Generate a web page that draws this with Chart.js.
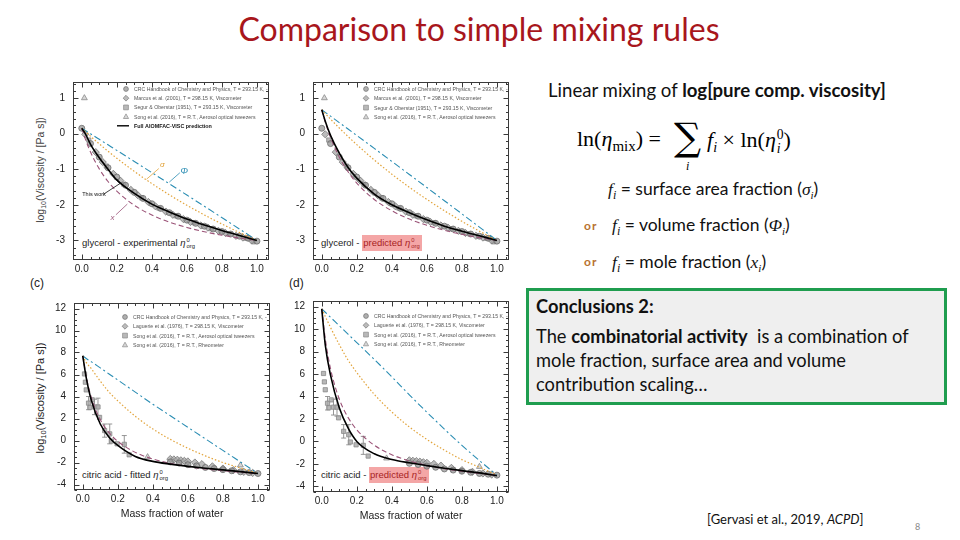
<!DOCTYPE html>
<html>
<head>
<meta charset="utf-8">
<title>Comparison to simple mixing rules</title>
<script src="https://cdn.jsdelivr.net/npm/chart.js@4.4.1/dist/chart.umd.min.js"></script>
<style>
html,body{margin:0;padding:0;background:#fff;}
#stage{position:relative;width:960px;height:540px;overflow:hidden;background:#fff;}
.t{position:absolute;white-space:nowrap;line-height:1;}
.cal{font-family:Lato,'Open Sans',sans-serif;color:#111;}
.ser{font-family:'Liberation Serif','DejaVu Serif',serif;}
.ax{font-family:'Liberation Sans',Arial,sans-serif;color:#222;}
.ss{display:inline-flex;flex-direction:column;vertical-align:middle;font-size:0.62em;line-height:1;margin-left:1px;}
.pk{background:#f4a6a6;color:#a81e1e;padding:2px 2px 3px 1px;}
.or{color:#b87330;font-weight:bold;font-size:12px;letter-spacing:1px;}
canvas{position:absolute;}
</style>
</head>
<body>
<div id="stage">
  <div class="t cal" style="left:0;width:958px;text-align:center;top:13px;font-size:32px;color:#a8161c;">Comparison to simple mixing rules</div>

  <div class="t cal" style="left:548px;top:81px;font-size:18.6px;">Linear mixing of <b>log[pure comp. viscosity]</b></div>

  <div class="t ser" style="left:577px;top:128px;font-size:22px;">ln(<i>η</i><span style="font-size:15px;position:relative;top:5px;">mix</span>) =</div>
  <div class="t" style="left:674px;top:118px;font-size:38px;font-family:'DejaVu Serif',serif;">∑</div>
  <div class="t ser" style="left:686px;top:160px;font-size:12px;"><i>i</i></div>
  <div class="t ser" style="left:707px;top:128px;font-size:22px;"><i>f</i><span style="font-size:14px;position:relative;top:5px;"><i>i</i></span> × ln(<i>η</i><span class="ss"><span>0</span><span><i>i</i></span></span>)</div>

  <div class="t cal" style="left:608px;top:180px;font-size:17.5px;"><span class="ser"><i>f</i><span style="font-size:12px;position:relative;top:4px;"><i>i</i></span></span> = surface area fraction (<span class="ser"><i>σ</i><span style="font-size:11px;position:relative;top:4px;"><i>i</i></span></span>)</div>
  <div class="t cal or" style="left:584px;top:220px;">or</div>
  <div class="t cal" style="left:612px;top:216px;font-size:17.5px;"><span class="ser"><i>f</i><span style="font-size:12px;position:relative;top:4px;"><i>i</i></span></span> = volume fraction (<span class="ser"><i>Φ</i><span style="font-size:11px;position:relative;top:4px;"><i>i</i></span></span>)</div>
  <div class="t cal or" style="left:584px;top:256px;">or</div>
  <div class="t cal" style="left:612px;top:253px;font-size:17.5px;"><span class="ser"><i>f</i><span style="font-size:12px;position:relative;top:4px;"><i>i</i></span></span> = mole fraction (<span class="ser"><i>x</i><span style="font-size:11px;position:relative;top:4px;"><i>i</i></span></span>)</div>

  <div style="position:absolute;left:526px;top:288px;width:421px;height:117px;box-sizing:border-box;border:3px solid #1f9d4f;background:#efefef;"></div>
  <div class="t cal" style="left:536px;top:297px;font-size:18.3px;font-weight:bold;">Conclusions 2:</div>
  <div class="t cal" style="left:536px;top:327px;font-size:18.3px;">The <b>combinatorial activity</b>&nbsp; is a combination of</div>
  <div class="t cal" style="left:536px;top:351px;font-size:18.3px;">mole fraction, surface area and volume</div>
  <div class="t cal" style="left:536px;top:375px;font-size:18.3px;">contribution scaling…</div>

  <div class="t cal" style="left:707px;top:513px;font-size:13px;">[Gervasi et al., 2019, <i>ACPD</i>]</div>
  <div class="t cal" style="left:915px;top:522px;font-size:9px;color:#888;">8</div>

  <div class="t ax" style="left:30px;top:277px;font-size:12px;">(c)</div>
  <div class="t ax" style="left:289px;top:277px;font-size:12px;">(d)</div>

  <div class="t ax" style="left:40px;top:170px;font-size:10.5px;transform:translate(-50%,-50%) rotate(-90deg);color:#444;">log<span style="font-size:7px;position:relative;top:2px;">10</span>(Viscosity / [Pa s])</div>
  <div class="t ax" style="left:40px;top:398px;font-size:11px;transform:translate(-50%,-50%) rotate(-90deg);">log<span style="font-size:7.5px;position:relative;top:2px;">10</span>(Viscosity / [Pa s])</div>

  <div class="t ax" style="left:82px;top:238px;font-size:9.5px;">glycerol - experimental <i>η</i><span class="ss"><span>0</span><span>org</span></span></div>
  <div class="t ax" style="left:321px;top:238px;font-size:9.5px;">glycerol - <span class="pk">predicted <i>η</i><span class="ss"><span>0</span><span>org</span></span></span></div>
  <div class="t ax" style="left:82px;top:470px;font-size:9.5px;">citric acid - fitted <i>η</i><span class="ss"><span>0</span><span>org</span></span></div>
  <div class="t ax" style="left:321px;top:470px;font-size:9.5px;">citric acid - <span class="pk">predicted <i>η</i><span class="ss"><span>0</span><span>org</span></span></span></div>
</div>

<script>
// ---------------- DATA ----------------
// mass fraction of water grid for the model / mixing-rule curves
const massFrac = [0, 0.02, 0.05, 0.1, 0.15, 0.2, 0.3, 0.4, 0.5, 0.6, 0.7, 0.8, 0.9, 1.0];

// axis ticks
const xTickValues = [0, 0.2, 0.4, 0.6, 0.8, 1.0];
const xTickLabels = ['0.0', '0.2', '0.4', '0.6', '0.8', '1.0'];
const glyYTicks = [-3, -2, -1, 0, 1];
const citYTicks = [-4, -2, 0, 2, 4, 6, 8, 10, 12];

// (a) glycerol, experimental pure-component viscosity
const glyVolumeA  = [0.15, 0.088, -0.005, -0.16, -0.315, -0.47, -0.782, -1.095, -1.41, -1.725, -2.042, -2.36, -2.679, -3.0];
const glySurfaceA = [0.15, 0.059, -0.075, -0.289, -0.495, -0.691, -1.061, -1.403, -1.719, -2.012, -2.284, -2.539, -2.777, -3.0];
const glyMoleA    = [0.15, -0.148, -0.518, -0.991, -1.344, -1.617, -2.013, -2.285, -2.485, -2.636, -2.756, -2.853, -2.933, -3.0];
const glyModelA   = [0.15, 0.0, -0.3, -0.68, -1.0, -1.3, -1.68, -1.98, -2.2, -2.4, -2.57, -2.72, -2.86, -3.0];

// (b) glycerol, predicted pure-component viscosity
const glyVolumeB  = [0.67, 0.598, 0.49, 0.309, 0.129, -0.053, -0.416, -0.781, -1.147, -1.515, -1.884, -2.254, -2.626, -3.0];
const glySurfaceB = [0.67, 0.564, 0.408, 0.158, -0.081, -0.31, -0.741, -1.139, -1.507, -1.848, -2.166, -2.463, -2.74, -3.0];
const glyMoleB    = [0.67, 0.323, -0.108, -0.659, -1.071, -1.389, -1.85, -2.167, -2.4, -2.576, -2.716, -2.829, -2.922, -3.0];
const glyModelB   = [0.67, 0.35, -0.05, -0.55, -0.95, -1.25, -1.7, -2.0, -2.22, -2.42, -2.6, -2.74, -2.87, -3.0];

// (c) citric acid, fitted pure-component viscosity
const citVolumeC  = [7.7, 7.45, 7.15, 6.6, 6.05, 5.5, 4.4, 3.3, 2.25, 1.2, 0.15, -0.9, -1.95, -3.0];
const citSurfaceC = [7.7, 7.1, 6.5, 5.4, 4.4, 3.6, 2.2, 1.05, 0.1, -0.7, -1.4, -2.0, -2.5, -3.0];
const citMoleC    = [7.7, 5.79, 3.85, 1.9, 0.71, -0.08, -1.08, -1.68, -2.08, -2.37, -2.59, -2.75, -2.89, -3.0];
const citModelC   = [7.7, 5.7, 3.6, 1.5, 0.3, -0.45, -1.45, -1.9, -2.15, -2.35, -2.52, -2.67, -2.83, -3.0];

// (d) citric acid, predicted pure-component viscosity
const citVolumeD  = [11.8, 11.5, 11.05, 10.3, 9.55, 8.8, 7.3, 5.75, 4.15, 2.6, 1.1, -0.35, -1.7, -3.0];
const citSurfaceD = [11.8, 11.13, 10.14, 8.62, 7.24, 6.13, 4.19, 2.62, 1.29, 0.18, -0.78, -1.62, -2.3, -3.0];
const citMoleD    = [11.8, 9.16, 6.48, 3.77, 2.14, 1.04, -0.34, -1.18, -1.73, -2.13, -2.43, -2.66, -2.85, -3.0];
const citModelD   = [11.8, 8.6, 5.9, 3.0, 1.2, 0.0, -1.1, -1.6, -1.9, -2.15, -2.38, -2.6, -2.8, -3.05];

// glycerol measurements
const glyCrcW = [0, 0.05, 0.1, 0.15, 0.2, 0.25, 0.3, 0.35, 0.4, 0.45, 0.5, 0.55, 0.6, 0.65, 0.7, 0.75, 0.8, 0.85, 0.9, 0.95, 1.0];
const glyCrcV = [0.15, -0.28, -0.66, -0.96, -1.22, -1.45, -1.65, -1.82, -1.97, -2.1, -2.22, -2.32, -2.43, -2.52, -2.6, -2.68, -2.75, -2.82, -2.88, -2.94, -3.02];
const glyViscW = [0.02, 0.08, 0.12, 0.18, 0.22, 0.28, 0.32, 0.38, 0.42, 0.48, 0.52, 0.58, 0.62, 0.68, 0.72, 0.78, 0.82, 0.88, 0.92, 0.97];
const glyViscV = [-0.02, -0.52, -0.8, -1.13, -1.32, -1.58, -1.73, -1.92, -2.04, -2.19, -2.28, -2.4, -2.48, -2.58, -2.64, -2.73, -2.79, -2.87, -2.92, -3.0];
const glySegurW = [0.04, 0.14, 0.24, 0.34, 0.44, 0.54, 0.64, 0.74, 0.84, 0.94, 0.98];
const glySegurV = [-0.18, -0.91, -1.42, -1.8, -2.09, -2.31, -2.5, -2.67, -2.81, -2.94, -3.04];
const glySongW = [0.015];
const glySongV = [1.0];

// citric acid measurements
const citCrcW = [0.5, 0.55, 0.6, 0.65, 0.7, 0.75, 0.8, 0.85, 0.9, 0.95, 1.0];
const citCrcV = [-1.95, -2.05, -2.2, -2.3, -2.45, -2.55, -2.65, -2.75, -2.85, -2.92, -3.0];
const citLagW = [0.5, 0.52, 0.54, 0.56, 0.58, 0.6, 0.64, 0.68, 0.74, 0.8, 0.86, 0.92, 0.97];
const citLagV = [-1.68, -1.72, -1.75, -1.8, -1.85, -1.9, -2.0, -2.15, -2.35, -2.55, -2.7, -2.85, -2.95];
const citAotW = [0.01, 0.015, 0.02, 0.033, 0.04, 0.054, 0.067, 0.087, 0.096, 0.125, 0.154, 0.163, 0.196, 0.237, 0.265];
const citAotV = [6.05, 5.3, 4.6, 3.4, 3.0, 3.7, 3.05, 3.05, 2.1, 0.9, 0.6, -0.05, -0.3, -0.35, -1.3];
const citAotErr = [0, 0, 0, 0.6, 0, 0, 0.7, 0.8, 0, 0.6, 0.9, 0, 0, 0.8, 0];
const citRheoW = [0.37, 0.9];
const citRheoV = [-1.5, -2.25];

// legend texts
const glyLegendLabels = [
  'CRC Handbook of Chemistry and Physics, T = 293.15 K, -',
  'Marcus et al. (2001), T = 298.15 K, Viscometer',
  'Segur & Oberstar (1951), T = 293.15 K, Viscometer',
  'Song et al. (2016), T = R.T., Aerosol optical tweezers'
];
const citLegendLabels = [
  'CRC Handbook of Chemistry and Physics, T = 293.15 K, -',
  'Laguerie et al. (1976), T = 298.15 K, Viscometer',
  'Song et al. (2016), T = R.T., Aerosol optical tweezers',
  'Song et al. (2016), T = R.T., Rheometer'
];
const modelLabel = 'Full AIOMFAC-VISC prediction';

// ---------------- STYLE HELPERS ----------------
const SANS = '"Liberation Sans", Arial, sans-serif';
const C_VOL = '#2a8db3', C_SURF = '#e2a43c', C_MOLE = '#9b5478', C_MODEL = '#000';
const MK = {
  circle:   {bg: 'rgba(150,150,150,0.75)', bd: '#6e6e6e', r: 3},
  rectRot:  {bg: 'rgba(170,170,170,0.8)',  bd: '#777',    r: 3.6},
  rect:     {bg: 'rgba(172,172,172,0.85)', bd: '#8a8a8a', r: 3},
  triangle: {bg: 'rgba(205,205,205,0.8)',  bd: '#8a8a8a', r: 3.4}
};

function pts(xs, ys) { return xs.map((x, i) => ({x: x, y: ys[i]})); }
function lineDs(label, ys, color, dash, width) {
  return {label, data: pts(massFrac, ys), borderColor: color, borderDash: dash, borderWidth: width,
          pointRadius: 0, fill: false, cubicInterpolationMode: 'monotone', showLine: true};
}
function markDs(label, xs, ys, shape, extra) {
  const m = MK[shape];
  return Object.assign({label, data: pts(xs, ys), showLine: false, pointStyle: shape, pointRadius: m.r,
          pointBackgroundColor: m.bg, pointBorderColor: m.bd, pointBorderWidth: 0.8,
          borderColor: m.bd, backgroundColor: m.bg}, extra || {});
}

// ---------------- PLUGINS ----------------
const boxTicks = {
  id: 'boxTicks',
  afterDatasetsDraw(chart, args, o) {
    const {ctx, chartArea: a, scales} = chart;
    const sx = scales.x, sy = scales.y;
    ctx.save();
    ctx.strokeStyle = '#3a3a3a';
    ctx.lineWidth = 1;
    const L = Math.round(a.left) + 0.5, R = Math.round(a.right) - 0.5;
    const T = Math.round(a.top) + 0.5, B = Math.round(a.bottom) - 0.5;
    ctx.strokeRect(L, T, R - L, B - T);
    ctx.beginPath();
    const isMajor = (v, step) => Math.abs(v / step - Math.round(v / step)) < 1e-6;
    for (let k = Math.ceil(sx.min / o.xMinor - 1e-9); k * o.xMinor <= sx.max + 1e-9; k++) {
      const v = k * o.xMinor, len = isMajor(v, o.xMajor) ? 5 : 2.5;
      const p = Math.round(sx.getPixelForValue(v)) + 0.5;
      ctx.moveTo(p, B); ctx.lineTo(p, B - len);
      ctx.moveTo(p, T); ctx.lineTo(p, T + len);
    }
    for (let k = Math.ceil(sy.min / o.yMinor - 1e-9); k * o.yMinor <= sy.max + 1e-9; k++) {
      const v = k * o.yMinor, len = isMajor(v, o.yMajor) ? 5 : 2.5;
      const p = Math.round(sy.getPixelForValue(v)) + 0.5;
      ctx.moveTo(L, p); ctx.lineTo(L + len, p);
      ctx.moveTo(R, p); ctx.lineTo(R - len, p);
    }
    ctx.stroke();
    ctx.restore();
  }
};

function drawMarker(ctx, shape, x, y, r, fill, stroke) {
  ctx.beginPath();
  if (shape === 'circle') ctx.arc(x, y, r, 0, Math.PI * 2);
  else if (shape === 'rect') ctx.rect(x - r, y - r, 2 * r, 2 * r);
  else if (shape === 'rectRot') { ctx.moveTo(x, y - r); ctx.lineTo(x + r, y); ctx.lineTo(x, y + r); ctx.lineTo(x - r, y); ctx.closePath(); }
  else if (shape === 'triangle') { ctx.moveTo(x, y - r); ctx.lineTo(x + r * 0.95, y + r * 0.7); ctx.lineTo(x - r * 0.95, y + r * 0.7); ctx.closePath(); }
  ctx.fillStyle = fill; ctx.fill();
  ctx.strokeStyle = stroke; ctx.lineWidth = 0.7; ctx.stroke();
}

const miniLegend = {
  id: 'miniLegend',
  afterDraw(chart, args, o) {
    if (!o || !o.items) return;
    const {ctx, chartArea: a} = chart;
    ctx.save();
    ctx.textBaseline = 'middle';
    o.items.forEach((it, i) => {
      const x = a.left + o.dx, y = a.top + o.dy + i * o.row;
      if (it.shape === 'line') {
        ctx.strokeStyle = '#000'; ctx.lineWidth = 1.4;
        ctx.beginPath(); ctx.moveTo(x - 9, y); ctx.lineTo(x + 3, y); ctx.stroke();
        ctx.font = 'bold 5.4px ' + SANS; ctx.fillStyle = '#111';
      } else {
        const m = MK[it.shape];
        drawMarker(ctx, it.shape, x, y, m.r * 0.8, m.bg, m.bd);
        ctx.font = '5.2px ' + SANS; ctx.fillStyle = '#555';
      }
      ctx.fillText(it.text, x + 8, y + 0.5);
    });
    ctx.restore();
  }
};

const annots = {
  id: 'annots',
  afterDatasetsDraw(chart, args, o) {
    if (!o || !o.items) return;
    const {ctx, scales: {x: sx, y: sy}} = chart;
    ctx.save();
    o.items.forEach(it => {
      ctx.strokeStyle = it.color; ctx.lineWidth = 0.8;
      ctx.beginPath();
      ctx.moveTo(sx.getPixelForValue(it.line[0]), sy.getPixelForValue(it.line[1]));
      ctx.lineTo(sx.getPixelForValue(it.line[2]), sy.getPixelForValue(it.line[3]));
      ctx.stroke();
      ctx.fillStyle = it.color;
      ctx.font = (it.italic ? 'italic ' : '') + it.size + 'px ' + SANS;
      ctx.textAlign = 'center'; ctx.textBaseline = 'middle';
      ctx.fillText(it.text, sx.getPixelForValue(it.x), sy.getPixelForValue(it.y));
    });
    ctx.restore();
  }
};

const errBars = {
  id: 'errBars',
  beforeDatasetsDraw(chart) {
    const {ctx, scales: {y: sy}} = chart;
    ctx.save();
    ctx.strokeStyle = '#8a8a8a'; ctx.lineWidth = 0.9;
    chart.data.datasets.forEach((ds, di) => {
      if (!ds.errors) return;
      const meta = chart.getDatasetMeta(di);
      meta.data.forEach((el, j) => {
        const e = ds.errors[j];
        if (!e) return;
        const v = ds.data[j].y;
        const y1 = sy.getPixelForValue(v - e), y2 = sy.getPixelForValue(v + e);
        ctx.beginPath();
        ctx.moveTo(el.x, y1); ctx.lineTo(el.x, y2);
        ctx.moveTo(el.x - 2.5, y1); ctx.lineTo(el.x + 2.5, y1);
        ctx.moveTo(el.x - 2.5, y2); ctx.lineTo(el.x + 2.5, y2);
        ctx.stroke();
      });
    });
    ctx.restore();
  }
};

// ---------------- PANELS ----------------
function makePanel(p) {
  const cv = document.createElement('canvas');
  const W = p.yW + p.boxW + p.padR, H = p.padT + p.boxH + p.xH;
  cv.width = W; cv.height = H;
  cv.style.left = (p.boxLeft - p.yW) + 'px';
  cv.style.top = (p.boxTop - p.padT) + 'px';
  cv.style.width = W + 'px'; cv.style.height = H + 'px';
  document.getElementById('stage').appendChild(cv);
  new Chart(cv.getContext('2d'), {
    type: 'line',
    data: {datasets: p.datasets},
    plugins: [errBars, boxTicks, annots, miniLegend],
    options: {
      responsive: false, animation: false, devicePixelRatio: 1, events: [],
      layout: {padding: {left: 0, right: p.padR, top: p.padT, bottom: 0}},
      plugins: {
        legend: {display: false}, tooltip: {enabled: false},
        boxTicks: {xMajor: 0.2, xMinor: 0.05, yMajor: p.yMajor, yMinor: p.yMinor},
        miniLegend: p.legend,
        annots: p.annots || {}
      },
      scales: {
        x: {
          type: 'linear', min: -0.05, max: 1.07,
          afterFit: s => { s.height = p.xH; },
          afterBuildTicks: s => { s.ticks = xTickValues.map(v => ({value: v})); },
          grid: {display: false, drawTicks: false}, border: {display: false},
          ticks: {autoSkip: false, maxRotation: 0, padding: 3, color: '#222',
                  font: {family: SANS, size: 10}, callback: (v, i) => xTickLabels[i]},
          title: {display: !!p.xTitle, text: p.xTitle || '', color: '#222',
                  font: {family: SANS, size: 10.5}, padding: {top: 0, bottom: 0}}
        },
        y: {
          type: 'linear', min: p.yMin, max: p.yMax,
          afterFit: s => { s.width = p.yW; },
          afterBuildTicks: s => { s.ticks = p.yTicks.map(v => ({value: v})); },
          grid: {display: false, drawTicks: false}, border: {display: false},
          ticks: {autoSkip: false, padding: 8, color: '#222',
                  font: {family: SANS, size: 10}, callback: v => String(v)}
        }
      }
    }
  });
}

function glyData() {
  return [
    markDs(glyLegendLabels[0], glyCrcW, glyCrcV, 'circle'),
    markDs(glyLegendLabels[1], glyViscW, glyViscV, 'rectRot'),
    markDs(glyLegendLabels[2], glySegurW, glySegurV, 'rect'),
    markDs(glyLegendLabels[3], glySongW, glySongV, 'triangle')
  ];
}
function citData() {
  return [
    markDs(citLegendLabels[0], citCrcW, citCrcV, 'circle'),
    markDs(citLegendLabels[1], citLagW, citLagV, 'rectRot'),
    markDs(citLegendLabels[2], citAotW, citAotV, 'rect', {errors: citAotErr}),
    markDs(citLegendLabels[3], citRheoW, citRheoV, 'triangle')
  ];
}
const glyLegItems = glyLegendLabels.map((t, i) => ({text: t, shape: ['circle', 'rectRot', 'rect', 'triangle'][i]}));
const citLegItems = citLegendLabels.map((t, i) => ({text: t, shape: ['circle', 'rectRot', 'rect', 'triangle'][i]}));

// (a)
makePanel({
  boxLeft: 73, boxTop: 72, boxW: 197, boxH: 188, yW: 35, padT: 4, padR: 4, xH: 18,
  yMin: -3.55, yMax: 1.45, yTicks: glyYTicks, yMajor: 1, yMinor: 0.2,
  datasets: [
    lineDs(modelLabel, glyModelA, C_MODEL, [], 1.6),
    lineDs('mole fraction', glyMoleA, C_MOLE, [5, 3], 1.1),
    lineDs('surface area fraction', glySurfaceA, C_SURF, [1.5, 2], 1.2),
    lineDs('volume fraction', glyVolumeA, C_VOL, [7, 3, 2, 3], 1.1)
  ].concat(glyData()),
  legend: {dx: 53, dy: 7, row: 9.2, items: glyLegItems.concat([{text: modelLabel, shape: 'line'}])},
  annots: {items: [
    {text: 'This work', x: 0.07, y: -1.72, color: '#111', size: 5.5, line: [0.125, -1.70, 0.225, -1.38]},
    {text: 'x', x: 0.175, y: -2.36, color: C_MOLE, size: 8, italic: true, line: [0.195, -2.28, 0.26, -1.98]},
    {text: 'σ', x: 0.46, y: -0.88, color: C_SURF, size: 8, italic: true, line: [0.37, -1.28, 0.44, -0.98]},
    {text: 'Φ', x: 0.585, y: -1.05, color: C_VOL, size: 9, italic: true, line: [0.5, -1.36, 0.56, -1.1]}
  ]}
});

// (b)
makePanel({
  boxLeft: 313, boxTop: 72, boxW: 197, boxH: 188, yW: 35, padT: 4, padR: 4, xH: 18,
  yMin: -3.55, yMax: 1.45, yTicks: glyYTicks, yMajor: 1, yMinor: 0.2,
  datasets: [
    lineDs(modelLabel, glyModelB, C_MODEL, [], 1.6),
    lineDs('mole fraction', glyMoleB, C_MOLE, [5, 3], 1.1),
    lineDs('surface area fraction', glySurfaceB, C_SURF, [1.5, 2], 1.2),
    lineDs('volume fraction', glyVolumeB, C_VOL, [7, 3, 2, 3], 1.1)
  ].concat(glyData()),
  legend: {dx: 53, dy: 7, row: 9.3, items: glyLegItems}
});

// (c)
makePanel({
  boxLeft: 74, boxTop: 293, boxW: 197, boxH: 197, yW: 35, padT: 4, padR: 4, xH: 30,
  yMin: -4.5, yMax: 12.5, yTicks: citYTicks, yMajor: 2, yMinor: 0.5,
  xTitle: 'Mass fraction of water',
  datasets: [
    lineDs(modelLabel, citModelC, C_MODEL, [], 1.6),
    lineDs('mole fraction', citMoleC, C_MOLE, [5, 3], 1.1),
    lineDs('surface area fraction', citSurfaceC, C_SURF, [1.5, 2], 1.2),
    lineDs('volume fraction', citVolumeC, C_VOL, [7, 3, 2, 3], 1.1)
  ].concat(citData()),
  legend: {dx: 51, dy: 14, row: 9.3, items: citLegItems}
});

// (d)
makePanel({
  boxLeft: 313, boxTop: 291, boxW: 197, boxH: 201, yW: 35, padT: 4, padR: 4, xH: 30,
  yMin: -4.5, yMax: 12.5, yTicks: citYTicks, yMajor: 2, yMinor: 0.5,
  xTitle: 'Mass fraction of water',
  datasets: [
    lineDs(modelLabel, citModelD, C_MODEL, [], 1.6),
    lineDs('mole fraction', citMoleD, C_MOLE, [5, 3], 1.1),
    lineDs('surface area fraction', citSurfaceD, C_SURF, [1.5, 2], 1.2),
    lineDs('volume fraction', citVolumeD, C_VOL, [7, 3, 2, 3], 1.1)
  ].concat(citData()),
  legend: {dx: 53, dy: 15, row: 9.3, items: citLegItems}
});
</script>
</body>
</html>
